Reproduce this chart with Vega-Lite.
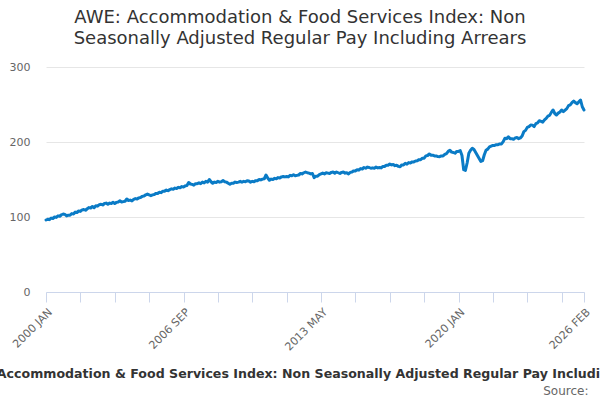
{
  "$schema": "https://vega.github.io/schema/vega-lite/v6.json",
  "autosize": "none",
  "padding": {"left": 46, "top": 67, "right": 16, "bottom": 108},
  "width": 538,
  "height": 225,
  "title": {
    "text": ["AWE: Accommodation & Food Services Index: Non", "Seasonally Adjusted Regular Pay Including Arrears"],
    "anchor": "middle",
    "dx": -15,
    "offset": 13,
    "font": "DejaVu Sans",
    "fontSize": 18,
    "fontWeight": "normal",
    "lineHeight": 21,
    "color": "#333333"
  },
  "data": {
    "values": [
      {"m": "2000 JAN", "v": 96}, {"m": "2000 FEB", "v": 97}, {"m": "2000 MAR", "v": 96.5}, {"m": "2000 APR", "v": 98.5}, {"m": "2000 MAY", "v": 98}, {"m": "2000 JUN", "v": 100}, {"m": "2000 JUL", "v": 99.5}, {"m": "2000 AUG", "v": 101.5}, {"m": "2000 SEP", "v": 101}, {"m": "2000 OCT", "v": 103}, {"m": "2000 NOV", "v": 104}, {"m": "2000 DEC", "v": 103.5},
      {"m": "2001 JAN", "v": 101.5}, {"m": "2001 FEB", "v": 102.5}, {"m": "2001 MAR", "v": 102.5}, {"m": "2001 APR", "v": 104.5}, {"m": "2001 MAY", "v": 104}, {"m": "2001 JUN", "v": 106.5}, {"m": "2001 JUL", "v": 106}, {"m": "2001 AUG", "v": 108}, {"m": "2001 SEP", "v": 107.5}, {"m": "2001 OCT", "v": 109.5}, {"m": "2001 NOV", "v": 110}, {"m": "2001 DEC", "v": 109},
      {"m": "2002 JAN", "v": 111}, {"m": "2002 FEB", "v": 112.5}, {"m": "2002 MAR", "v": 112}, {"m": "2002 APR", "v": 114}, {"m": "2002 MAY", "v": 112.5}, {"m": "2002 JUN", "v": 115}, {"m": "2002 JUL", "v": 114.5}, {"m": "2002 AUG", "v": 116.5}, {"m": "2002 SEP", "v": 117}, {"m": "2002 OCT", "v": 116}, {"m": "2002 NOV", "v": 118}, {"m": "2002 DEC", "v": 118.5},
      {"m": "2003 JAN", "v": 117}, {"m": "2003 FEB", "v": 118.5}, {"m": "2003 MAR", "v": 118}, {"m": "2003 APR", "v": 119.5}, {"m": "2003 MAY", "v": 118}, {"m": "2003 JUN", "v": 119.5}, {"m": "2003 JUL", "v": 120}, {"m": "2003 AUG", "v": 121.5}, {"m": "2003 SEP", "v": 120}, {"m": "2003 OCT", "v": 120.5}, {"m": "2003 NOV", "v": 121}, {"m": "2003 DEC", "v": 124},
      {"m": "2004 JAN", "v": 122}, {"m": "2004 FEB", "v": 122.5}, {"m": "2004 MAR", "v": 121.5}, {"m": "2004 APR", "v": 123.5}, {"m": "2004 MAY", "v": 124.5}, {"m": "2004 JUN", "v": 124}, {"m": "2004 JUL", "v": 125.5}, {"m": "2004 AUG", "v": 126}, {"m": "2004 SEP", "v": 127.5}, {"m": "2004 OCT", "v": 128}, {"m": "2004 NOV", "v": 129.5}, {"m": "2004 DEC", "v": 130.5},
      {"m": "2005 JAN", "v": 129.5}, {"m": "2005 FEB", "v": 128.5}, {"m": "2005 MAR", "v": 129.5}, {"m": "2005 APR", "v": 130}, {"m": "2005 MAY", "v": 131.5}, {"m": "2005 JUN", "v": 131.5}, {"m": "2005 JUL", "v": 133}, {"m": "2005 AUG", "v": 132.5}, {"m": "2005 SEP", "v": 134.5}, {"m": "2005 OCT", "v": 134.5}, {"m": "2005 NOV", "v": 136}, {"m": "2005 DEC", "v": 135},
      {"m": "2006 JAN", "v": 136.5}, {"m": "2006 FEB", "v": 137.5}, {"m": "2006 MAR", "v": 137}, {"m": "2006 APR", "v": 138.5}, {"m": "2006 MAY", "v": 138}, {"m": "2006 JUN", "v": 139.5}, {"m": "2006 JUL", "v": 139}, {"m": "2006 AUG", "v": 140.5}, {"m": "2006 SEP", "v": 140}, {"m": "2006 OCT", "v": 141.5}, {"m": "2006 NOV", "v": 142}, {"m": "2006 DEC", "v": 146},
      {"m": "2007 JAN", "v": 144}, {"m": "2007 FEB", "v": 143.5}, {"m": "2007 MAR", "v": 142.5}, {"m": "2007 APR", "v": 144.5}, {"m": "2007 MAY", "v": 144.5}, {"m": "2007 JUN", "v": 145.5}, {"m": "2007 JUL", "v": 144.5}, {"m": "2007 AUG", "v": 146.5}, {"m": "2007 SEP", "v": 145.5}, {"m": "2007 OCT", "v": 147.5}, {"m": "2007 NOV", "v": 146.5}, {"m": "2007 DEC", "v": 150},
      {"m": "2008 JAN", "v": 147}, {"m": "2008 FEB", "v": 145}, {"m": "2008 MAR", "v": 146.5}, {"m": "2008 APR", "v": 146}, {"m": "2008 MAY", "v": 147.5}, {"m": "2008 JUN", "v": 146.5}, {"m": "2008 JUL", "v": 147}, {"m": "2008 AUG", "v": 148.5}, {"m": "2008 SEP", "v": 147}, {"m": "2008 OCT", "v": 146.5}, {"m": "2008 NOV", "v": 145}, {"m": "2008 DEC", "v": 143.6},
      {"m": "2009 JAN", "v": 145}, {"m": "2009 FEB", "v": 145}, {"m": "2009 MAR", "v": 146.5}, {"m": "2009 APR", "v": 146}, {"m": "2009 MAY", "v": 146.5}, {"m": "2009 JUN", "v": 147.5}, {"m": "2009 JUL", "v": 146.5}, {"m": "2009 AUG", "v": 147.5}, {"m": "2009 SEP", "v": 147}, {"m": "2009 OCT", "v": 148.4}, {"m": "2009 NOV", "v": 148}, {"m": "2009 DEC", "v": 146.5},
      {"m": "2010 JAN", "v": 147.5}, {"m": "2010 FEB", "v": 147}, {"m": "2010 MAR", "v": 148.5}, {"m": "2010 APR", "v": 148.5}, {"m": "2010 MAY", "v": 150}, {"m": "2010 JUN", "v": 149.5}, {"m": "2010 JUL", "v": 150.5}, {"m": "2010 AUG", "v": 151}, {"m": "2010 SEP", "v": 156}, {"m": "2010 OCT", "v": 152}, {"m": "2010 NOV", "v": 149}, {"m": "2010 DEC", "v": 150.5},
      {"m": "2011 JAN", "v": 150}, {"m": "2011 FEB", "v": 151.5}, {"m": "2011 MAR", "v": 151}, {"m": "2011 APR", "v": 152.5}, {"m": "2011 MAY", "v": 152}, {"m": "2011 JUN", "v": 153.5}, {"m": "2011 JUL", "v": 154}, {"m": "2011 AUG", "v": 153.5}, {"m": "2011 SEP", "v": 154}, {"m": "2011 OCT", "v": 153.5}, {"m": "2011 NOV", "v": 155.5}, {"m": "2011 DEC", "v": 155},
      {"m": "2012 JAN", "v": 156.4}, {"m": "2012 FEB", "v": 155}, {"m": "2012 MAR", "v": 155.5}, {"m": "2012 APR", "v": 156}, {"m": "2012 MAY", "v": 158}, {"m": "2012 JUN", "v": 157.5}, {"m": "2012 JUL", "v": 159}, {"m": "2012 AUG", "v": 160}, {"m": "2012 SEP", "v": 159}, {"m": "2012 OCT", "v": 158.5}, {"m": "2012 NOV", "v": 157.5}, {"m": "2012 DEC", "v": 158},
      {"m": "2013 JAN", "v": 152.5}, {"m": "2013 FEB", "v": 154.5}, {"m": "2013 MAR", "v": 154.5}, {"m": "2013 APR", "v": 156.5}, {"m": "2013 MAY", "v": 157.5}, {"m": "2013 JUN", "v": 158.5}, {"m": "2013 JUL", "v": 157.5}, {"m": "2013 AUG", "v": 159}, {"m": "2013 SEP", "v": 158.5}, {"m": "2013 OCT", "v": 158}, {"m": "2013 NOV", "v": 159.5}, {"m": "2013 DEC", "v": 160},
      {"m": "2014 JAN", "v": 158.5}, {"m": "2014 FEB", "v": 160}, {"m": "2014 MAR", "v": 159}, {"m": "2014 APR", "v": 158}, {"m": "2014 MAY", "v": 159.5}, {"m": "2014 JUN", "v": 160}, {"m": "2014 JUL", "v": 158.5}, {"m": "2014 AUG", "v": 159}, {"m": "2014 SEP", "v": 157.5}, {"m": "2014 OCT", "v": 159.5}, {"m": "2014 NOV", "v": 160}, {"m": "2014 DEC", "v": 161.5},
      {"m": "2015 JAN", "v": 161.5}, {"m": "2015 FEB", "v": 163}, {"m": "2015 MAR", "v": 162.5}, {"m": "2015 APR", "v": 164.5}, {"m": "2015 MAY", "v": 164}, {"m": "2015 JUN", "v": 166}, {"m": "2015 JUL", "v": 165}, {"m": "2015 AUG", "v": 166.5}, {"m": "2015 SEP", "v": 166}, {"m": "2015 OCT", "v": 165}, {"m": "2015 NOV", "v": 165.5}, {"m": "2015 DEC", "v": 165},
      {"m": "2016 JAN", "v": 166.5}, {"m": "2016 FEB", "v": 165.5}, {"m": "2016 MAR", "v": 166}, {"m": "2016 APR", "v": 165.5}, {"m": "2016 MAY", "v": 167.5}, {"m": "2016 JUN", "v": 167.5}, {"m": "2016 JUL", "v": 169}, {"m": "2016 AUG", "v": 169}, {"m": "2016 SEP", "v": 170.7}, {"m": "2016 OCT", "v": 169.5}, {"m": "2016 NOV", "v": 170}, {"m": "2016 DEC", "v": 168.5},
      {"m": "2017 JAN", "v": 169}, {"m": "2017 FEB", "v": 167.5}, {"m": "2017 MAR", "v": 167}, {"m": "2017 APR", "v": 169.5}, {"m": "2017 MAY", "v": 169.5}, {"m": "2017 JUN", "v": 171.5}, {"m": "2017 JUL", "v": 170.5}, {"m": "2017 AUG", "v": 172.5}, {"m": "2017 SEP", "v": 172}, {"m": "2017 OCT", "v": 173.5}, {"m": "2017 NOV", "v": 173.5}, {"m": "2017 DEC", "v": 174.7},
      {"m": "2018 JAN", "v": 175}, {"m": "2018 FEB", "v": 176.5}, {"m": "2018 MAR", "v": 176.5}, {"m": "2018 APR", "v": 178.5}, {"m": "2018 MAY", "v": 178.5}, {"m": "2018 JUN", "v": 181.5}, {"m": "2018 JUL", "v": 182}, {"m": "2018 AUG", "v": 184}, {"m": "2018 SEP", "v": 182.5}, {"m": "2018 OCT", "v": 182.5}, {"m": "2018 NOV", "v": 181.5}, {"m": "2018 DEC", "v": 181.5},
      {"m": "2019 JAN", "v": 180.5}, {"m": "2019 FEB", "v": 180.4}, {"m": "2019 MAR", "v": 181.5}, {"m": "2019 APR", "v": 181.5}, {"m": "2019 MAY", "v": 183.5}, {"m": "2019 JUN", "v": 184.5}, {"m": "2019 JUL", "v": 187.5}, {"m": "2019 AUG", "v": 189}, {"m": "2019 SEP", "v": 186.5}, {"m": "2019 OCT", "v": 186}, {"m": "2019 NOV", "v": 185}, {"m": "2019 DEC", "v": 187.5},
      {"m": "2020 JAN", "v": 187.5}, {"m": "2020 FEB", "v": 188.5}, {"m": "2020 MAR", "v": 182}, {"m": "2020 APR", "v": 163}, {"m": "2020 MAY", "v": 162}, {"m": "2020 JUN", "v": 172}, {"m": "2020 JUL", "v": 185}, {"m": "2020 AUG", "v": 189}, {"m": "2020 SEP", "v": 191.6}, {"m": "2020 OCT", "v": 190}, {"m": "2020 NOV", "v": 186}, {"m": "2020 DEC", "v": 182},
      {"m": "2021 JAN", "v": 178}, {"m": "2021 FEB", "v": 174}, {"m": "2021 MAR", "v": 175}, {"m": "2021 APR", "v": 183}, {"m": "2021 MAY", "v": 189}, {"m": "2021 JUN", "v": 190.5}, {"m": "2021 JUL", "v": 193.5}, {"m": "2021 AUG", "v": 194.5}, {"m": "2021 SEP", "v": 195.5}, {"m": "2021 OCT", "v": 195.5}, {"m": "2021 NOV", "v": 196.5}, {"m": "2021 DEC", "v": 196.5},
      {"m": "2022 JAN", "v": 197.5}, {"m": "2022 FEB", "v": 197.5}, {"m": "2022 MAR", "v": 200.5}, {"m": "2022 APR", "v": 205}, {"m": "2022 MAY", "v": 204.5}, {"m": "2022 JUN", "v": 207}, {"m": "2022 JUL", "v": 204.5}, {"m": "2022 AUG", "v": 204.5}, {"m": "2022 SEP", "v": 203.6}, {"m": "2022 OCT", "v": 205.5}, {"m": "2022 NOV", "v": 206}, {"m": "2022 DEC", "v": 204.5},
      {"m": "2023 JAN", "v": 205.5}, {"m": "2023 FEB", "v": 208}, {"m": "2023 MAR", "v": 213.8}, {"m": "2023 APR", "v": 215.5}, {"m": "2023 MAY", "v": 219.5}, {"m": "2023 JUN", "v": 220.5}, {"m": "2023 JUL", "v": 222.7}, {"m": "2023 AUG", "v": 222.5}, {"m": "2023 SEP", "v": 220.5}, {"m": "2023 OCT", "v": 224.5}, {"m": "2023 NOV", "v": 225.5}, {"m": "2023 DEC", "v": 228.4},
      {"m": "2024 JAN", "v": 227.5}, {"m": "2024 FEB", "v": 226.5}, {"m": "2024 MAR", "v": 229.5}, {"m": "2024 APR", "v": 231.5}, {"m": "2024 MAY", "v": 234.5}, {"m": "2024 JUN", "v": 235.5}, {"m": "2024 JUL", "v": 239.5}, {"m": "2024 AUG", "v": 242.7}, {"m": "2024 SEP", "v": 238}, {"m": "2024 OCT", "v": 236}, {"m": "2024 NOV", "v": 238.5}, {"m": "2024 DEC", "v": 240},
      {"m": "2025 JAN", "v": 242.7}, {"m": "2025 FEB", "v": 240.5}, {"m": "2025 MAR", "v": 242.5}, {"m": "2025 APR", "v": 244.5}, {"m": "2025 MAY", "v": 248.5}, {"m": "2025 JUN", "v": 249.5}, {"m": "2025 JUL", "v": 252.5}, {"m": "2025 AUG", "v": 254.7}, {"m": "2025 SEP", "v": 252.5}, {"m": "2025 OCT", "v": 251}, {"m": "2025 NOV", "v": 253.5}, {"m": "2025 DEC", "v": 256},
      {"m": "2026 JAN", "v": 247}, {"m": "2026 FEB", "v": 242.7}
    ]
  },
  "mark": {"type": "line", "color": "#0a7bc6", "strokeWidth": 3, "strokeJoin": "round", "strokeCap": "round"},
  "encoding": {
    "x": {
      "field": "m",
      "type": "ordinal",
      "sort": null,
      "scale": {"type": "point", "padding": 0},
      "axis": {
        "title": "AWE: Accommodation & Food Services Index: Non Seasonally Adjusted Regular Pay Including Arrears",
        "titleFont": "DejaVu Sans",
        "titleFontSize": 12.6,
        "titleFontWeight": "bold",
        "titleColor": "#333333",
        "titlePadding": 15,
        "values": ["2000 JAN", "2001 SEP", "2003 MAY", "2005 JAN", "2006 SEP", "2008 MAY", "2010 JAN", "2011 SEP", "2013 MAY", "2015 JAN", "2016 SEP", "2018 MAY", "2020 JAN", "2021 SEP", "2023 MAY", "2025 JAN", "2026 FEB"],
        "labelExpr": "indexof(['2000 JAN', '2006 SEP', '2013 MAY', '2020 JAN', '2026 FEB'], datum.value) >= 0 ? datum.value : ''",
        "labelAngle": -45,
        "labelFont": "DejaVu Sans",
        "labelFontSize": 11,
        "labelColor": "#666666",
        "labelPadding": 4,
        "labelOverlap": false,
        "domainColor": "#ccd6eb",
        "tickColor": "#ccd6eb",
        "tickSize": 10,
        "grid": false
      }
    },
    "y": {
      "field": "v",
      "type": "quantitative",
      "scale": {"domain": [0, 300]},
      "axis": {
        "title": "Source:",
        "titleAngle": 0,
        "titleX": 542,
        "titleY": 323,
        "titleAlign": "right",
        "titleBaseline": "middle",
        "titleFont": "DejaVu Sans",
        "titleFontSize": 12,
        "titleFontWeight": "normal",
        "titleColor": "#666666",
        "values": [0, 100, 200, 300],
        "domain": false,
        "ticks": false,
        "tickSize": 0,
        "labelPadding": 16,
        "labelFont": "DejaVu Sans",
        "labelFontSize": 11,
        "labelColor": "#666666",
        "gridColor": "#e6e6e6"
      }
    }
  },
  "config": {"view": {"stroke": null}}
}
